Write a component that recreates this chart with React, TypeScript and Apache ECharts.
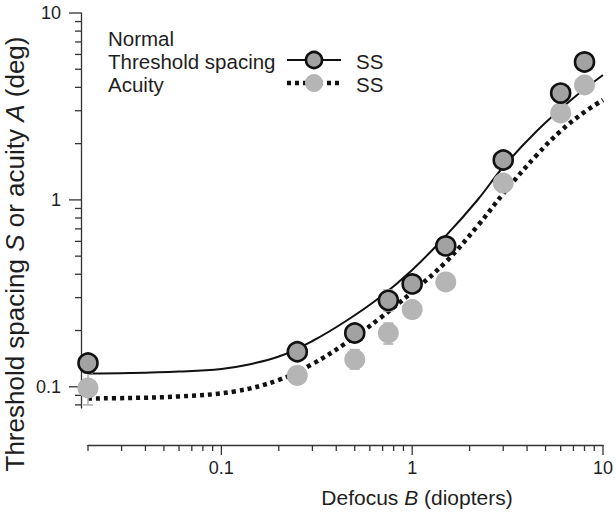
import React, { useEffect, useRef } from "react";
import * as echarts from "echarts";

const FONT = '"Liberation Sans", Arial, Helvetica, sans-serif';
const AXIS_COLOR = "#333333";
const TEXT_COLOR = "#1e1e1e";

const X_MIN = 0.02;
const X_MAX = 10;
const Y_MIN = 0.077;
const Y_MAX = 10;

// measured points
const DEFOCUS = [0.02, 0.25, 0.5, 0.75, 1, 1.5, 3, 6, 8];
const SPACING = [0.134, 0.154, 0.194, 0.29, 0.355, 0.567, 1.635, 3.73, 5.47];
const ACUITY = [0.0985, 0.115, 0.14, 0.194, 0.259, 0.364, 1.23, 2.92, 4.12];

// error bars [defocus, low, high]
const SPACING_ERR = [[0.75, 0.2545, 0.33]];
const ACUITY_ERR = [
  [0.02, 0.08, 0.1186],
  [0.5, 0.1245, 0.158],
  [0.75, 0.1695, 0.219],
  [1.5, 0.334, 0.397],
];

// fitted curves
const FIT_SPACING_X = [0.02, 0.033, 0.06, 0.1, 0.135, 0.2, 0.3, 0.45, 0.67, 1, 1.5, 2.2, 3, 4.5, 6.8, 10];
const FIT_SPACING_Y = [0.1178, 0.1185, 0.1207, 0.1245, 0.1308, 0.1452, 0.1758, 0.2249, 0.2984, 0.422, 0.6416, 0.9988, 1.5, 2.337, 3.423, 4.659];
const FIT_ACUITY_X = [0.02, 0.033, 0.06, 0.117, 0.2, 0.3, 0.45, 0.67, 1, 1.5, 2.2, 3.05, 4.5, 6, 8, 10];
const FIT_ACUITY_Y = [0.0866, 0.0871, 0.0888, 0.0944, 0.1088, 0.1324, 0.1715, 0.2306, 0.3215, 0.4653, 0.7248, 1.102, 1.739, 2.337, 2.953, 3.423];

// axis ticks
const X_MAJOR = [0.1, 1, 10];
const X_MINOR = [0.02, 0.03, 0.04, 0.05, 0.06, 0.07, 0.08, 0.09, 0.2, 0.3, 0.4, 0.5, 0.6, 0.7, 0.8, 0.9, 2, 3, 4, 5, 6, 7, 8, 9];
const Y_MAJOR = [0.1, 1, 10];
const Y_MINOR = [0.08, 0.09, 0.2, 0.3, 0.4, 0.5, 0.6, 0.7, 0.8, 0.9, 2, 3, 4, 5, 6, 7, 8, 9];

const X_AXIS_OFFSET = 37;
const Y_AXIS_OFFSET = 7;

const DARK_FILL = "#a2a2a2";
const LIGHT_FILL = "#b5b5b5";
const ERR_COLOR = "#b0b0b0";
const LEGEND_FONT = 20.5;

const logLabel = (v: number) => {
  const l = Math.log10(v);
  if (Math.abs(l - Math.round(l)) > 1e-6) return "";
  return String(parseFloat(v.toPrecision(6)));
};

export default function App() {
  const ref = useRef<HTMLDivElement>(null);
  useEffect(() => {
    if (!ref.current) return;
    const chart = echarts.init(ref.current, null, { renderer: "svg" });

    const xTickData = [
      ...X_MAJOR.map((v) => [v, Y_MIN, 1]),
      ...X_MINOR.map((v) => [v, Y_MIN, 0]),
    ];
    const yTickData = [
      ...Y_MAJOR.map((v) => [X_MIN, v, 1]),
      ...Y_MINOR.map((v) => [X_MIN, v, 0]),
    ];

    const errRender = (params: any, api: any) => {
      const x = api.value(0);
      const lo = api.coord([x, api.value(1)]);
      const hi = api.coord([x, api.value(2)]);
      const w = 5;
      const st = { stroke: ERR_COLOR, lineWidth: 1.6 };
      return {
        type: "group",
        children: [
          { type: "line", shape: { x1: lo[0], y1: lo[1], x2: hi[0], y2: hi[1] }, style: st },
          { type: "line", shape: { x1: lo[0] - w, y1: lo[1], x2: lo[0] + w, y2: lo[1] }, style: st },
          { type: "line", shape: { x1: hi[0] - w, y1: hi[1], x2: hi[0] + w, y2: hi[1] }, style: st },
        ],
      };
    };

    const legendText = (text: string, x: number, y: number) => ({
      type: "text",
      x,
      y,
      style: { text, fontFamily: FONT, fontSize: LEGEND_FONT, fill: TEXT_COLOR, verticalAlign: "middle" },
    });

    chart.setOption({
      animation: false,
      backgroundColor: "#ffffff",
      grid: { left: 88, right: 10, top: 13, bottom: 109, containLabel: false },
      xAxis: {
        type: "log",
        logBase: 10,
        min: X_MIN,
        max: X_MAX,
        offset: X_AXIS_OFFSET,
        axisLine: { show: true, lineStyle: { color: AXIS_COLOR, width: 1.3 } },
        axisTick: { show: false },
        splitLine: { show: false },
        minorTick: { show: false },
        axisLabel: {
          formatter: logLabel,
          margin: 14,
          color: TEXT_COLOR,
          fontFamily: FONT,
          fontSize: 18,
          showMinLabel: true,
          showMaxLabel: true,
        },
      },
      yAxis: {
        type: "log",
        logBase: 10,
        min: Y_MIN,
        max: Y_MAX,
        offset: Y_AXIS_OFFSET,
        axisLine: { show: true, lineStyle: { color: AXIS_COLOR, width: 1.3 } },
        axisTick: { show: false },
        splitLine: { show: false },
        minorTick: { show: false },
        axisLabel: {
          formatter: logLabel,
          margin: 20,
          color: TEXT_COLOR,
          fontFamily: FONT,
          fontSize: 18,
        },
      },
      graphic: [
        {
          type: "text",
          x: 15,
          y: 254,
          rotation: Math.PI / 2,
          style: {
            text: "Threshold spacing {i|S} or acuity {i|A} (deg)",
            fontFamily: FONT,
            fontSize: 26,
            fill: TEXT_COLOR,
            align: "center",
            verticalAlign: "middle",
            rich: { i: { fontStyle: "italic", fontFamily: FONT, fontSize: 26, fill: TEXT_COLOR } },
          },
        },
        {
          type: "text",
          x: 417,
          y: 497,
          style: {
            text: "Defocus {i|B} (diopters)",
            fontFamily: FONT,
            fontSize: 21,
            fill: TEXT_COLOR,
            align: "center",
            verticalAlign: "middle",
            rich: { i: { fontStyle: "italic", fontFamily: FONT, fontSize: 21, fill: TEXT_COLOR } },
          },
        },
        // legend
        legendText("Normal", 108, 38),
        legendText("Threshold spacing", 108, 61),
        legendText("Acuity", 108, 84),
        { type: "line", shape: { x1: 287, y1: 60, x2: 341, y2: 60 }, style: { stroke: "#111", lineWidth: 2 } },
        { type: "circle", shape: { cx: 314, cy: 60, r: 8 }, style: { fill: DARK_FILL, stroke: "#111", lineWidth: 2.6 } },
        { type: "line", shape: { x1: 287, y1: 83, x2: 341, y2: 83 }, style: { stroke: "#111", lineWidth: 4.5, lineDash: [4, 4] } },
        { type: "circle", shape: { cx: 314, cy: 83, r: 9 }, style: { fill: LIGHT_FILL } },
        legendText("SS", 356, 61),
        legendText("SS", 356, 84),
      ],
      series: [
        {
          type: "custom",
          name: "xticks",
          clip: false,
          silent: true,
          data: xTickData,
          encode: { x: 0, y: 1 },
          renderItem: (params: any, api: any) => {
            const p = api.coord([api.value(0), api.value(1)]);
            const y0 = p[1] + X_AXIS_OFFSET;
            const len = api.value(2) ? 10 : 6;
            return { type: "line", shape: { x1: p[0], y1: y0, x2: p[0], y2: y0 + len }, style: { stroke: AXIS_COLOR, lineWidth: 1.3 } };
          },
        },
        {
          type: "custom",
          name: "yticks",
          clip: false,
          silent: true,
          data: yTickData,
          encode: { x: 0, y: 1 },
          renderItem: (params: any, api: any) => {
            const p = api.coord([api.value(0), api.value(1)]);
            const x0 = p[0] - Y_AXIS_OFFSET;
            const len = api.value(2) ? 12 : 6;
            return { type: "line", shape: { x1: x0, y1: p[1], x2: x0 - len, y2: p[1] }, style: { stroke: AXIS_COLOR, lineWidth: 1.3 } };
          },
        },
        {
          type: "line",
          name: "Threshold fit",
          data: FIT_SPACING_X.map((x, i) => [x, FIT_SPACING_Y[i]]),
          smooth: 0.4,
          showSymbol: false,
          symbol: "none",
          lineStyle: { color: "#111", width: 2 },
          z: 2,
        },
        {
          type: "line",
          name: "Acuity fit",
          data: FIT_ACUITY_X.map((x, i) => [x, FIT_ACUITY_Y[i]]),
          smooth: 0.4,
          showSymbol: false,
          symbol: "none",
          lineStyle: { color: "#111", width: 4.5, type: [4, 4], cap: "butt" },
          z: 2,
        },
        {
          type: "custom",
          name: "acuity err",
          data: ACUITY_ERR,
          encode: { x: 0, y: [1, 2] },
          renderItem: errRender,
          z: 3,
        },
        {
          type: "custom",
          name: "spacing err",
          data: SPACING_ERR,
          encode: { x: 0, y: [1, 2] },
          renderItem: errRender,
          z: 3,
        },
        {
          type: "scatter",
          name: "Acuity",
          data: DEFOCUS.map((x, i) => [x, ACUITY[i]]),
          symbol: "circle",
          symbolSize: 21,
          itemStyle: { color: LIGHT_FILL, opacity: 1 },
          z: 4,
        },
        {
          type: "scatter",
          name: "Threshold spacing",
          data: DEFOCUS.map((x, i) => [x, SPACING[i]]),
          symbol: "circle",
          symbolSize: 19,
          itemStyle: { color: DARK_FILL, borderColor: "#111", borderWidth: 2.6, opacity: 1 },
          z: 5,
        },
      ],
    });
    return () => chart.dispose();
  }, []);
  return <div ref={ref} style={{ position: "fixed", left: 0, top: 0, width: 616, height: 517 }} />;
}
